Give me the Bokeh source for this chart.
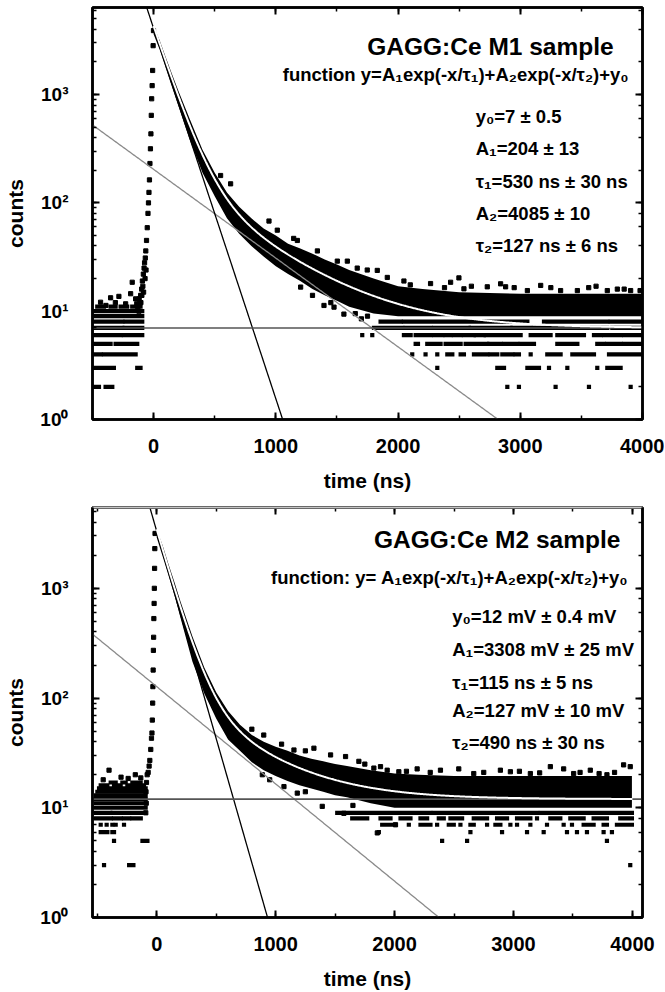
import numpy as np
from bokeh.plotting import figure
from bokeh.layouts import column
from bokeh.models import (Label, LinearAxis, LogAxis, SingleIntervalTicker, LogTicker,
                          CustomJSTickFormatter, Range1d)
from bokeh.embed import file_html
from bokeh.resources import INLINE

FONT = "Liberation Sans"

# ---------------------------------------------------------------- data: M1
m1_params = dict(y0=7, A1=204, tau1=530, A2=4085, tau2=127)
m1_texts = ["y₀=7 ± 0.5", "A₁=204 ± 13", "τ₁=530 ns ± 30 ns", "A₂=4085 ± 10", "τ₂=127 ns ± 6 ns"]

m1_rise_t = [-130, -120, -118, -112, -106, -104, -98, -96, -92, -88, -84, -82, -78, -74, -70, -68,
             -64, -62, -58, -52, -46, -42, -38, -34, -30, -26, -22, -19, -16, -12, -8, -4, -1]
m1_rise_c = [11, 10, 13, 12, 14, 12, 16, 14, 19, 17, 22, 15, 25, 28, 20, 31,
             36, 24, 45, 59, 80, 100, 125, 163, 231, 316, 434, 643, 915, 1210, 1670, 2830, 3900]

m1_band_t = [0, 50, 100, 150, 200, 300, 400, 500, 600, 700, 800, 900, 1000, 1100, 1200, 1300,
             1400, 1500, 1600, 1800, 2000, 2200, 2500, 3000, 3500, 4000]
m1_band_hi = [4300, 3150, 2200, 1550, 1100, 580, 310, 190, 125, 92, 72, 58, 50, 42, 38, 34,
              30, 27, 24, 20, 17, 16, 15, 14.5, 14.5, 14.5]
m1_band_lo = [3600, 2600, 1750, 1180, 800, 370, 190, 115, 72, 52, 40, 32, 26, 22, 19, 16,
              14, 12.5, 11, 9.5, 9, 9, 9, 9, 9, 9]

m1_pts_t = [-434, -390, -352, -313, -284, -229, -188, -175, -147, -138,
            548, 630, 944, 1012, 1146, 1176, 1340, 1503, 1585, 1666, 1748, 1830, 1912, 2048,
            2100, 2266, 2380, 2430, 2498, 2539, 2600, 2730, 2839, 2880, 2950, 3058, 3167, 3250,
            3330, 3467, 3560, 3620, 3712, 3794, 3850, 3903, 3980,
            1203, 1300, 1394, 1450, 1476, 1557, 1650, 1700, 1750]
m1_pts_c = [12.1, 11.3, 13.3, 12, 13.7, 11.7, 14.5, 18.5, 13, 11.7,
            179, 150, 68, 56, 47, 45, 36, 29, 29, 25, 24, 23.8, 20.5, 19,
            17.5, 18, 16.5, 18.5, 20.3, 16.1, 17, 16.8, 17.9, 16.8, 16.5, 15.5, 17.3, 16.5,
            15.5, 15.5, 16.5, 17, 15.5, 16, 16, 15.5, 15.5,
            16.7, 14, 11.3, 12, 10.9, 9.4, 9.5, 8.5, 9]

m1_runs_2 = [(-480, -447), (-393, -338), (2894, 2894), (2989, 2989), (3289, 3289), (3562, 3562), (3903, 3903)]
m1_runs_3 = [(-488, -325), (-134, -107), (2321, 2321), (2812, 2867), (3058, 3153), (3235, 3235),
             (3385, 3385), (3630, 3630), (3712, 3821)]
m1_runs_4 = [(-488, -434), (-406, -147), (2116, 2116), (2225, 2225), (2321, 2321), (2403, 2444),
             (2512, 2539), (2621, 2730), (2757, 2812), (2853, 2935), (2962, 2989), (3085, 3085),
             (3221, 3330), (3426, 3603), (3726, 3990)]
m1_runs_5 = [(-488, -352), (-311, -134), (2144, 2163), (2239, 2348), (2389, 2512), (2553, 2730),
             (2744, 2839), (2867, 2976), (3003, 3112), (3303, 3467), (3630, 3685), (3712, 3821), (3849, 3990)]
m1_runs_6 = [(-488, -270), (-243, -93), (1707, 1707), (1789, 1789), (2048, 2103), (2144, 2266),
             (2294, 2362), (2389, 2430), (2457, 2512), (2539, 2621), (2635, 2703), (2717, 3003),
             (3085, 3248), (3303, 3521), (3603, 3658), (3685, 3821), (3849, 3990)]
m1_runs_7 = [(-488, -256), (-237, -93), (1803, 2035), (2062, 2266), (2294, 2580), (2594, 2921),
             (2935, 3085), (3112, 3712), (3753, 3990)]
m1_runs_8 = [(-488, -256), (-229, -93), (1857, 2021), (2048, 3058), (3194, 3712), (3740, 3990)]
m1_runs_9 = [(-488, -93)]
m1_runs_10 = [(-488, -93)]
m1_runs_11 = [(-461, -406), (-352, -311), (-270, -216), (-175, -107)]

# ---------------------------------------------------------------- data: M2
m2_params = dict(y0=12, A1=3308, tau1=115, A2=127, tau2=490)
m2_texts = ["y₀=12 mV ± 0.4 mV", "A₁=3308 mV ± 25 mV", "τ₁=115 ns ± 5 ns",
            "A₂=127 mV ± 10 mV", "τ₂=490 ns ± 30 ns"]

m2_rise_t = [-92, -90, -88, -86, -80, -72, -64, -58, -50, -44, -40, -37, -34, -32, -30, -28,
             -26, -24, -22, -20, -18, -16, -14]
m2_rise_c = [9, 14, 11, 17, 20, 21, 24, 27, 34, 43, 48, 63, 90, 127, 180, 272,
             358, 530, 728, 1000, 1520, 2300, 3160]

m2_band_t = [0, 50, 100, 150, 200, 300, 400, 500, 600, 700, 800, 900, 1000, 1100, 1200, 1300,
             1400, 1500, 1600, 1800, 2000, 2200, 2500, 3000, 3500, 3996]
m2_band_hi = [3450, 2450, 1650, 1130, 760, 365, 190, 113, 76, 57, 46, 40, 36, 33, 30, 28,
              26.5, 25, 24, 22, 20.5, 20, 19.5, 19.5, 19.5, 19.5]
m2_band_lo = [2900, 1950, 1300, 860, 540, 215, 110, 65, 42, 33, 26, 22, 19.5, 17.5, 16, 15,
              14, 13, 12.5, 11, 10, 10, 10, 10, 10, 10]

m2_pts_t = [-401, -134, -300, -180, -450, -240,
            800, 900, 1050, 1154, 1250, 1322, 1462, 1588, 1700, 1750, 1826, 1882, 1938, 2036,
            2100, 2190, 2300, 2386, 2540, 2666, 2750, 2890, 2974, 3050, 3142, 3220, 3310, 3422,
            3506, 3560, 3646, 3720, 3786, 3850, 3926, 3982,
            888, 950, 1070, 1182, 1250, 1392, 1574, 1650, 1855, 2008]
m2_pts_c = [22, 18.7, 19, 20, 18, 18.5,
            52, 46, 38, 33.6, 33, 34.9, 30.3, 29.3, 26.5, 25, 23, 23.7, 22, 21.3,
            21.5, 22.6, 21, 22, 22.6, 20.5, 21, 22, 21.3, 21.5, 20.5, 20.8, 23.7, 22.6,
            20.5, 21, 22, 20.5, 20, 21, 24.6, 23.7,
            20, 18, 15.6, 13.6, 14, 10.3, 8.9, 10.5, 5.9, 7]

m2_runs_3 = [(-443, -443), (-232, -196), (3982, 3982)]
m2_runs_5 = [(-359, -359), (-120, -78), (2400, 2400), (2610, 2610), (3786, 3786)]
m2_runs_6 = [(-471, -415), (-373, -359), (1868, 1868), (2638, 2638), (2904, 2904), (3114, 3114),
             (3254, 3254), (3450, 3450), (3534, 3534), (3618, 3618), (3758, 3758), (3828, 3828)]
m2_runs_7 = [(-471, -471), (-421, -421), (-373, -373), (-345, -345), (-275, -275), (1896, 1980),
             (2008, 2008), (2120, 2120), (2218, 2302), (2358, 2358), (2456, 2498), (2554, 2554),
             (2638, 2666), (2778, 2778), (2848, 2890), (2974, 2974), (3030, 3030), (3142, 3142),
             (3282, 3282), (3422, 3422), (3492, 3492), (3590, 3674), (3758, 3786), (3870, 3996)]
m2_runs_8 = [(-513, -387), (-359, -303), (-275, -232), (-204, -134), (1644, 1770), (1882, 1966),
             (2050, 2134), (2218, 2274), (2372, 2414), (2470, 2568), (2666, 2778), (2862, 2946),
             (3030, 3142), (3198, 3198), (3310, 3394), (3478, 3590), (3674, 3786), (3898, 3996)]
m2_runs_9 = [(-513, -390), (-370, -106), (1518, 2300), (2330, 3200), (3230, 3996)]
m2_runs_10 = [(-513, -93)]
m2_runs_11 = [(-513, -93)]
m2_runs_12 = [(-513, -93)]
m2_runs_13 = [(-510, -93)]
m2_runs_14 = [(-499, -93)]
m2_runs_15 = [(-485, -93)]
m2_runs_16 = [(-471, -415), (-359, -303), (-247, -107)]
m2_runs_17 = [(-387, -345), (-289, -261), (-205, -135)]

x_title = "time (ns)"
y_title = "counts"

SUP_JS = """
const s = {'0':'\u2070','1':'\u00b9','2':'\u00b2','3':'\u00b3','4':'\u2074'};
const e = Math.round(Math.log10(tick));
return '10' + (s[String(e)] || String(e));
"""


def style_axes(p, gray_top=False):
    bottom = p.below[0]
    left = p.left[0]
    blank = CustomJSTickFormatter(code="return ''")
    xt = SingleIntervalTicker(interval=1000, num_minor_ticks=2)
    top = LinearAxis(ticker=xt, formatter=blank, major_label_text_font_size="0px",
                     major_label_standoff=4 if gray_top else 0)
    right = LogAxis(ticker=LogTicker(), formatter=blank, major_label_text_font_size="0px",
                    major_label_standoff=0)
    p.add_layout(top, "above")
    p.add_layout(right, "right")
    if gray_top:
        p.add_layout(LinearAxis(formatter=blank, major_label_text_font_size="0px",
                                major_label_standoff=0, axis_line_color="#c4c4c4",
                                axis_line_width=2, major_tick_line_color=None,
                                minor_tick_line_color=None), "above")
    bottom.ticker = xt
    left.formatter = CustomJSTickFormatter(code=SUP_JS)
    for ax in [bottom, left, top, right]:
        ax.axis_line_width = 2.5
        ax.axis_line_color = "black"
        ax.major_tick_in = 7
        ax.major_tick_out = 0
        ax.minor_tick_in = 4
        ax.minor_tick_out = 0
        ax.major_tick_line_width = 2
        ax.minor_tick_line_width = 1.5
        ax.major_tick_line_color = "black"
        ax.minor_tick_line_color = "black"
    for ax in [bottom, left]:
        ax.major_label_text_font = FONT
        ax.major_label_text_font_style = "bold"
        ax.major_label_text_color = "black"
        ax.axis_label_text_font = FONT
        ax.axis_label_text_font_style = "bold"
        ax.axis_label_text_font_size = "21px"
        ax.axis_label_text_color = "black"
    bottom.axis_label = x_title
    bottom.major_label_text_font_size = "20px"
    bottom.major_label_standoff = 19
    bottom.axis_label_standoff = 13
    left.axis_label = y_title
    left.major_label_text_font_size = "19px"
    left.major_label_standoff = 24
    left.axis_label_standoff = 10
    p.grid.visible = False
    p.outline_line_color = "black"
    p.outline_line_width = 2.5


def draw_panel(p, pr, fast, slow, rise_t, rise_c, band_t, band_hi, band_lo, pts_t, pts_c, runs,
               t_start, t_end):
    p.varea(x=band_t, y1=band_lo, y2=band_hi, fill_color="black")
    xs0, xs1, ys = [], [], []
    for lvl, rr in runs:
        for a, b in rr:
            xs0.append(a)
            xs1.append(b)
            ys.append(lvl)
    p.segment(x0=xs0, y0=ys, x1=xs1, y1=ys, line_color="black", line_width=4.2,
              line_cap="square")
    p.scatter(rise_t, rise_c, marker="square", size=4.2, color="black")
    p.scatter(pts_t, pts_c, marker="square", size=4.2, color="black")
    A_f, tau_f = fast
    A_s, tau_s = slow
    tl = np.linspace(t_start - 100, t_end + 100, 600)
    p.line(tl, A_s * np.exp(-tl / tau_s), line_color="#8a8a8a", line_width=1.3)
    p.line(tl, A_f * np.exp(-tl / tau_f), line_color="black", line_width=1.3)
    p.line([t_start - 100, t_end + 100], [pr["y0"], pr["y0"]], line_color="#555555", line_width=1.6)
    tf = np.linspace(0, 4000, 600)
    total = pr["A1"] * np.exp(-tf / pr["tau1"]) + pr["A2"] * np.exp(-tf / pr["tau2"]) + pr["y0"]
    p.line(tf, total, line_color="white", line_width=2)


def lab(p, x, y, text, size, align="left"):
    p.add_layout(Label(x=x, y=y, text=text, text_align=align, text_baseline="alphabetic",
                       text_font=FONT, text_font_style="bold",
                       text_font_size=size, text_color="black"))


def add_texts(p, title, tx, ty, func, fx, fy, params, px, pys):
    lab(p, tx, ty, title, "24.5px", align="right")
    lab(p, fx, fy, func, "18.5px", align="right")
    for txt, yy in zip(params, pys):
        lab(p, px, yy, txt, "18.5px")


p1 = figure(x_range=Range1d(-500, 4000), y_range=Range1d(1, 6370), y_axis_type="log",
            width=664, height=495, min_border_left=92, min_border_right=22,
            min_border_top=7, min_border_bottom=76, output_backend="svg",
            toolbar_location=None, background_fill_color="white", border_fill_color="white")
runs1 = [(2, m1_runs_2), (3, m1_runs_3), (4, m1_runs_4), (5, m1_runs_5), (6, m1_runs_6),
         (7, m1_runs_7), (8, m1_runs_8), (9, m1_runs_9), (10, m1_runs_10), (11, m1_runs_11)]
draw_panel(p1, m1_params, (m1_params["A2"], m1_params["tau2"]), (m1_params["A1"], m1_params["tau1"]),
           m1_rise_t, m1_rise_c, m1_band_t, m1_band_hi, m1_band_lo, m1_pts_t, m1_pts_c, runs1,
           -500, 4000)
style_axes(p1)
add_texts(p1, "GAGG:Ce M1 sample", 3764, 2784,
          "function y=A₁exp(-x/τ₁)+A₂exp(-x/τ₂)+y₀", 3887, 1532,
          m1_texts, 2635, [628, 318, 158, 79.8, 40.4])

p2 = figure(x_range=Range1d(-540, 4085), y_range=Range1d(1, 5450), y_axis_type="log",
            width=664, height=497, min_border_left=92, min_border_right=22,
            min_border_top=12, min_border_bottom=74, output_backend="svg",
            toolbar_location=None, background_fill_color="white", border_fill_color="white")
runs2 = [(3, m2_runs_3), (5, m2_runs_5), (6, m2_runs_6), (7, m2_runs_7), (8, m2_runs_8),
         (9, m2_runs_9), (10, m2_runs_10), (11, m2_runs_11), (12, m2_runs_12), (13, m2_runs_13),
         (14, m2_runs_14), (15, m2_runs_15), (16, m2_runs_16), (17, m2_runs_17)]
draw_panel(p2, m2_params, (m2_params["A1"], m2_params["tau1"]), (m2_params["A2"], m2_params["tau2"]),
           m2_rise_t, m2_rise_c, m2_band_t, m2_band_hi, m2_band_lo, m2_pts_t, m2_pts_c, runs2,
           -540, 4085)
style_axes(p2, gray_top=True)
add_texts(p2, "GAGG:Ce M2 sample", 3899, 2791,
          "function: y= A₁exp(-x/τ₁)+A₂exp(-x/τ₂)+y₀", 3966, 1259,
          m2_texts, 2485, [557, 279, 140, 76.2, 39])

layout = column(p1, p2, spacing=0)
open("out.html", "w").write(file_html(layout, INLINE))
